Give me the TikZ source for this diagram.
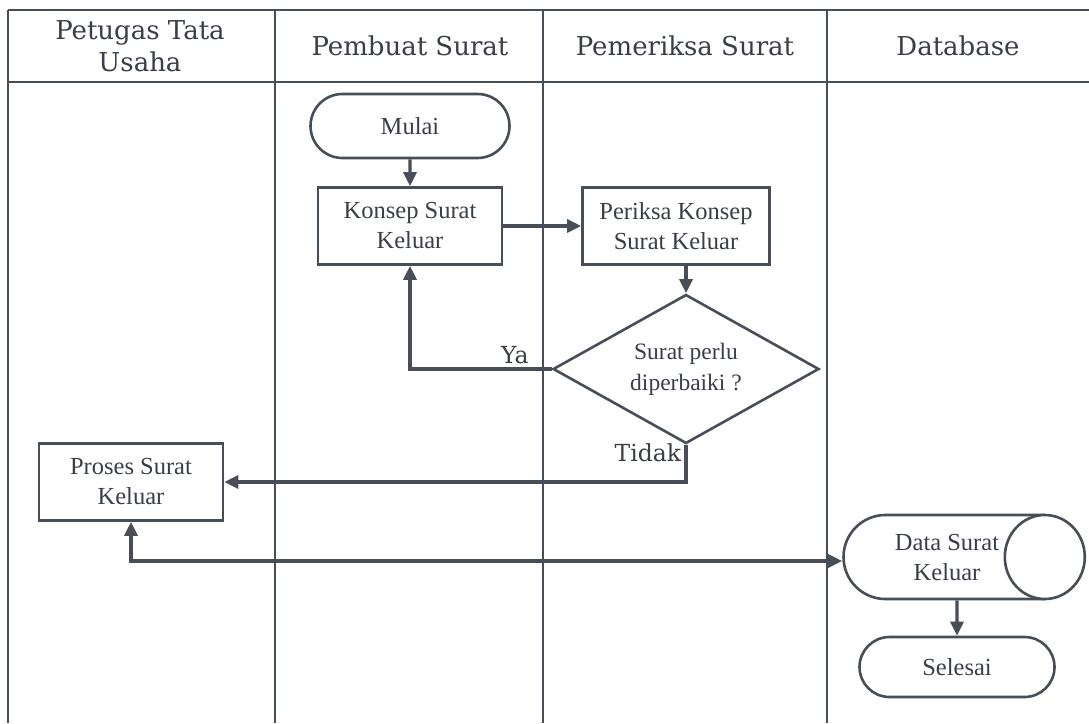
\documentclass[tikz,border=0pt]{standalone}
\usepackage{fontspec}
\setmainfont{Liberation Serif}
\newfontfamily\judulfont{DejaVu Serif}
\usetikzlibrary{arrows.meta,shapes.geometric,shapes.misc}
\definecolor{garis}{RGB}{72,78,88}
\definecolor{tinta}{RGB}{58,62,70}

\begin{document}
\begin{tikzpicture}[x=1pt,y=-1pt,>={Triangle[length=14pt,width=13pt]},
  every node/.style={text=tinta,align=center,font=\fontsize{24.5}{30}\selectfont},
  proses/.style={draw=garis,line width=2.6pt,rectangle,minimum width=184pt,minimum height=77pt,inner sep=0pt},
  terminal/.style={draw=garis,line width=2.6pt,rounded rectangle,minimum height=64pt,inner sep=0pt},
  keputusan/.style={draw=garis,line width=2.6pt,diamond,aspect=1.8,minimum width=266pt,minimum height=149pt,inner sep=0pt,font=\fontsize{23.5}{31}\selectfont},
  alur/.style={draw=garis,line width=3.2pt,->},
  lajur/.style={draw=garis,line width=1.5pt},
  judul/.style={text=tinta,font=\judulfont\fontsize{26}{32}\selectfont}]
  \useasboundingbox[fill=white] (0,0) rectangle (1089,723);
  % lajur / swimlane
  \draw[lajur] (8,10) -- (1089,10);
  \draw[lajur] (8,82) -- (1089,82);
  \foreach \x in {8,275,543,827}{\draw[lajur] (\x,10) -- (\x,723);}
  \node[judul] (hTU) at (140,46) {Petugas Tata\\Usaha};
  \node[judul] (hPembuat) at (410,46) {Pembuat Surat};
  \node[judul] (hPemeriksa) at (685,46) {Pemeriksa Surat};
  \node[judul] (hDB) at (958,46) {Database};
  % simbol
  \node[terminal,minimum width=199pt] (mulai) at (410,126) {Mulai};
  \node[proses] (konsep) at (410,226) {Konsep Surat\\Keluar};
  \node[proses,minimum width=187pt] (periksa) at (676,226) {Periksa Konsep\\Surat Keluar};
  \node[keputusan] (cek) at (686,369) {Surat perlu\\diperbaiki ?};
  \node[proses] (proses) at (131,482) {Proses Surat\\Keluar};
  \node[terminal,rounded rectangle right arc=none,minimum width=200pt,minimum height=84pt] (data) at (947,557) {Data Surat\\Keluar};
  \draw[garis,line width=2.6pt,fill=white] (data.east) ellipse [x radius=40, y radius=42];
  \node[terminal,minimum width=195pt,minimum height=60pt] (selesai) at (957,667) {Selesai};
  % alur
  \draw[alur] (mulai) -- (konsep);
  \draw[alur] (konsep) -- (periksa);
  \draw[alur] (periksa.south -| cek.north) -- (cek);
  \draw[alur] (cek.west) -| (konsep.south)
    node[pos=0.13,above,judul,font=\judulfont\fontsize{23.5}{25}\selectfont] {Ya};
  \draw[alur] (cek.south) |- (proses.east)
    node[pos=0.1,left,judul,font=\judulfont\fontsize{23.5}{25}\selectfont] {Tidak};
  \draw[alur,<->] (proses.south) |- ([yshift=-4pt]data.west);
  \draw[alur] (data.south -| selesai.north) -- (selesai);
\end{tikzpicture}
\end{document}
